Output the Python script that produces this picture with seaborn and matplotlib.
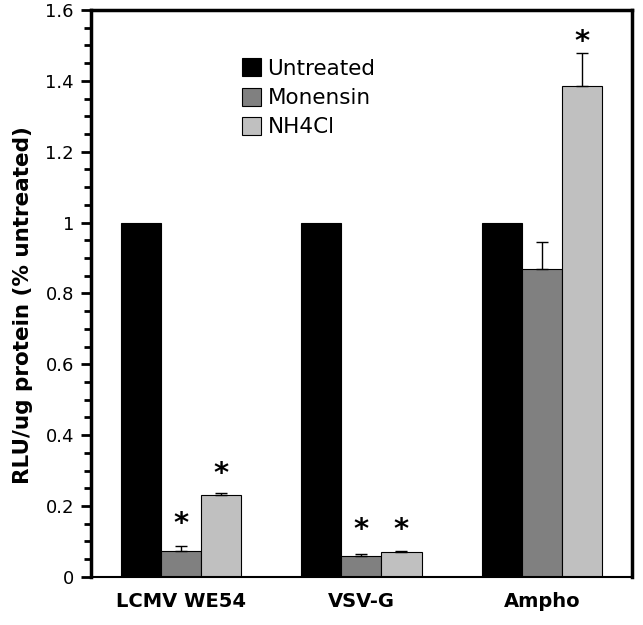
import matplotlib
matplotlib.use("Agg")
import matplotlib.pyplot as plt
import seaborn as sns
import pandas as pd
import numpy as np
from matplotlib.ticker import MultipleLocator

categories = ["LCMV WE54", "VSV-G", "Ampho"]
treatments = ["Untreated", "Monensin", "NH4Cl"]
untreated = [1.0, 1.0, 1.0]
monensin = [0.073, 0.060, 0.870]
nh4cl = [0.230, 0.070, 1.385]
monensin_err = [0.014, 0.005, 0.075]
nh4cl_err = [0.006, 0.004, 0.093]
untreated_err = [0, 0, 0]
# heights where significance asterisks sit (None = no asterisk)
star_untreated = [None, None, None]
star_monensin = [0.166, 0.150, None]
star_nh4cl = [0.308, 0.150, 1.527]

rows = []
for i, c in enumerate(categories):
    rows.append((c, "Untreated", untreated[i], untreated_err[i]))
    rows.append((c, "Monensin", monensin[i], monensin_err[i]))
    rows.append((c, "NH4Cl", nh4cl[i], nh4cl_err[i]))
df = pd.DataFrame(rows, columns=["virus", "treatment", "value", "err"])

sns.set_style("white")
plt.rcParams['font.family'] = ['DejaVu Sans']
plt.rcParams['text.color'] = 'black'
plt.rcParams['axes.labelcolor'] = 'black'
plt.rcParams['xtick.color'] = 'black'
plt.rcParams['ytick.color'] = 'black'

fig = plt.figure(figsize=(6.43, 6.25), dpi=100)
ax = fig.add_axes([0.141, 0.077, 0.842, 0.907])

palette = {"Untreated": "#000000", "Monensin": "#808080", "NH4Cl": "#c0c0c0"}
sns.barplot(data=df, x="virus", y="value", hue="treatment", order=categories,
            hue_order=treatments, palette=palette, errorbar=None, width=0.667,
            edgecolor="black", linewidth=0.8, saturation=1, ax=ax)

stars = {"Untreated": star_untreated, "Monensin": star_monensin, "NH4Cl": star_nh4cl}
errs = {"Untreated": untreated_err, "Monensin": monensin_err, "NH4Cl": nh4cl_err}
for cont, t in zip(ax.containers, treatments):
    for j, bar in enumerate(cont):
        xc = bar.get_x() + bar.get_width() / 2
        h = bar.get_height()
        e = errs[t][j]
        if e > 0:
            ax.errorbar([xc], [h], yerr=[[0], [e]], fmt="none", ecolor="black",
                        elinewidth=1, capsize=4, capthick=1)
        sy = stars[t][j]
        if sy is not None:
            ax.annotate("*", xy=(xc, sy), xytext=(0, -4.5), textcoords="offset points",
                        ha="center", va="center", fontsize=21, fontweight="bold")

ax.set_ylim(0, 1.6)
ax.set_xlim(-0.5, 2.5)
ax.yaxis.set_minor_locator(MultipleLocator(0.05))
ax.set_yticks([0, 0.2, 0.4, 0.6, 0.8, 1.0, 1.2, 1.4, 1.6])
ax.set_yticklabels(["0", "0.2", "0.4", "0.6", "0.8", "1", "1.2", "1.4", "1.6"], fontsize=13)
ax.set_xticks([0, 1, 2])
ax.set_xticklabels(categories, fontsize=14, fontweight="bold")
ax.set_xticks([-0.5, 0.5, 1.5, 2.5], minor=True)
ax.tick_params(axis="x", which="major", length=0, pad=11)
ax.tick_params(axis="x", which="minor", length=5, color="#bbbbbb", width=1, direction="out")
ax.tick_params(axis="y", which="major", length=7, width=2, direction="out", left=True, pad=5)
ax.tick_params(axis="y", which="minor", length=5, width=2, direction="out", left=True)
ax.set_xlabel("")
ax.set_ylabel("RLU/ug protein (% untreated)", fontsize=15.5, fontweight="bold")
ax.yaxis.set_label_coords(-0.107, 0.48)

for side in ["left", "top", "right"]:
    ax.spines[side].set_visible(True)
    ax.spines[side].set_linewidth(2.5)
    ax.spines[side].set_color("black")
ax.spines["bottom"].set_visible(True)
ax.spines["bottom"].set_linewidth(1.5)
ax.spines["bottom"].set_color("black")

leg = ax.legend(loc="upper left", bbox_to_anchor=(0.263, 0.93), frameon=False,
                fontsize=15.5, handlelength=0.9, handleheight=0.9, handletextpad=0.3,
                labelspacing=0.42, borderaxespad=0)

fig.savefig("out.png", dpi=100)
